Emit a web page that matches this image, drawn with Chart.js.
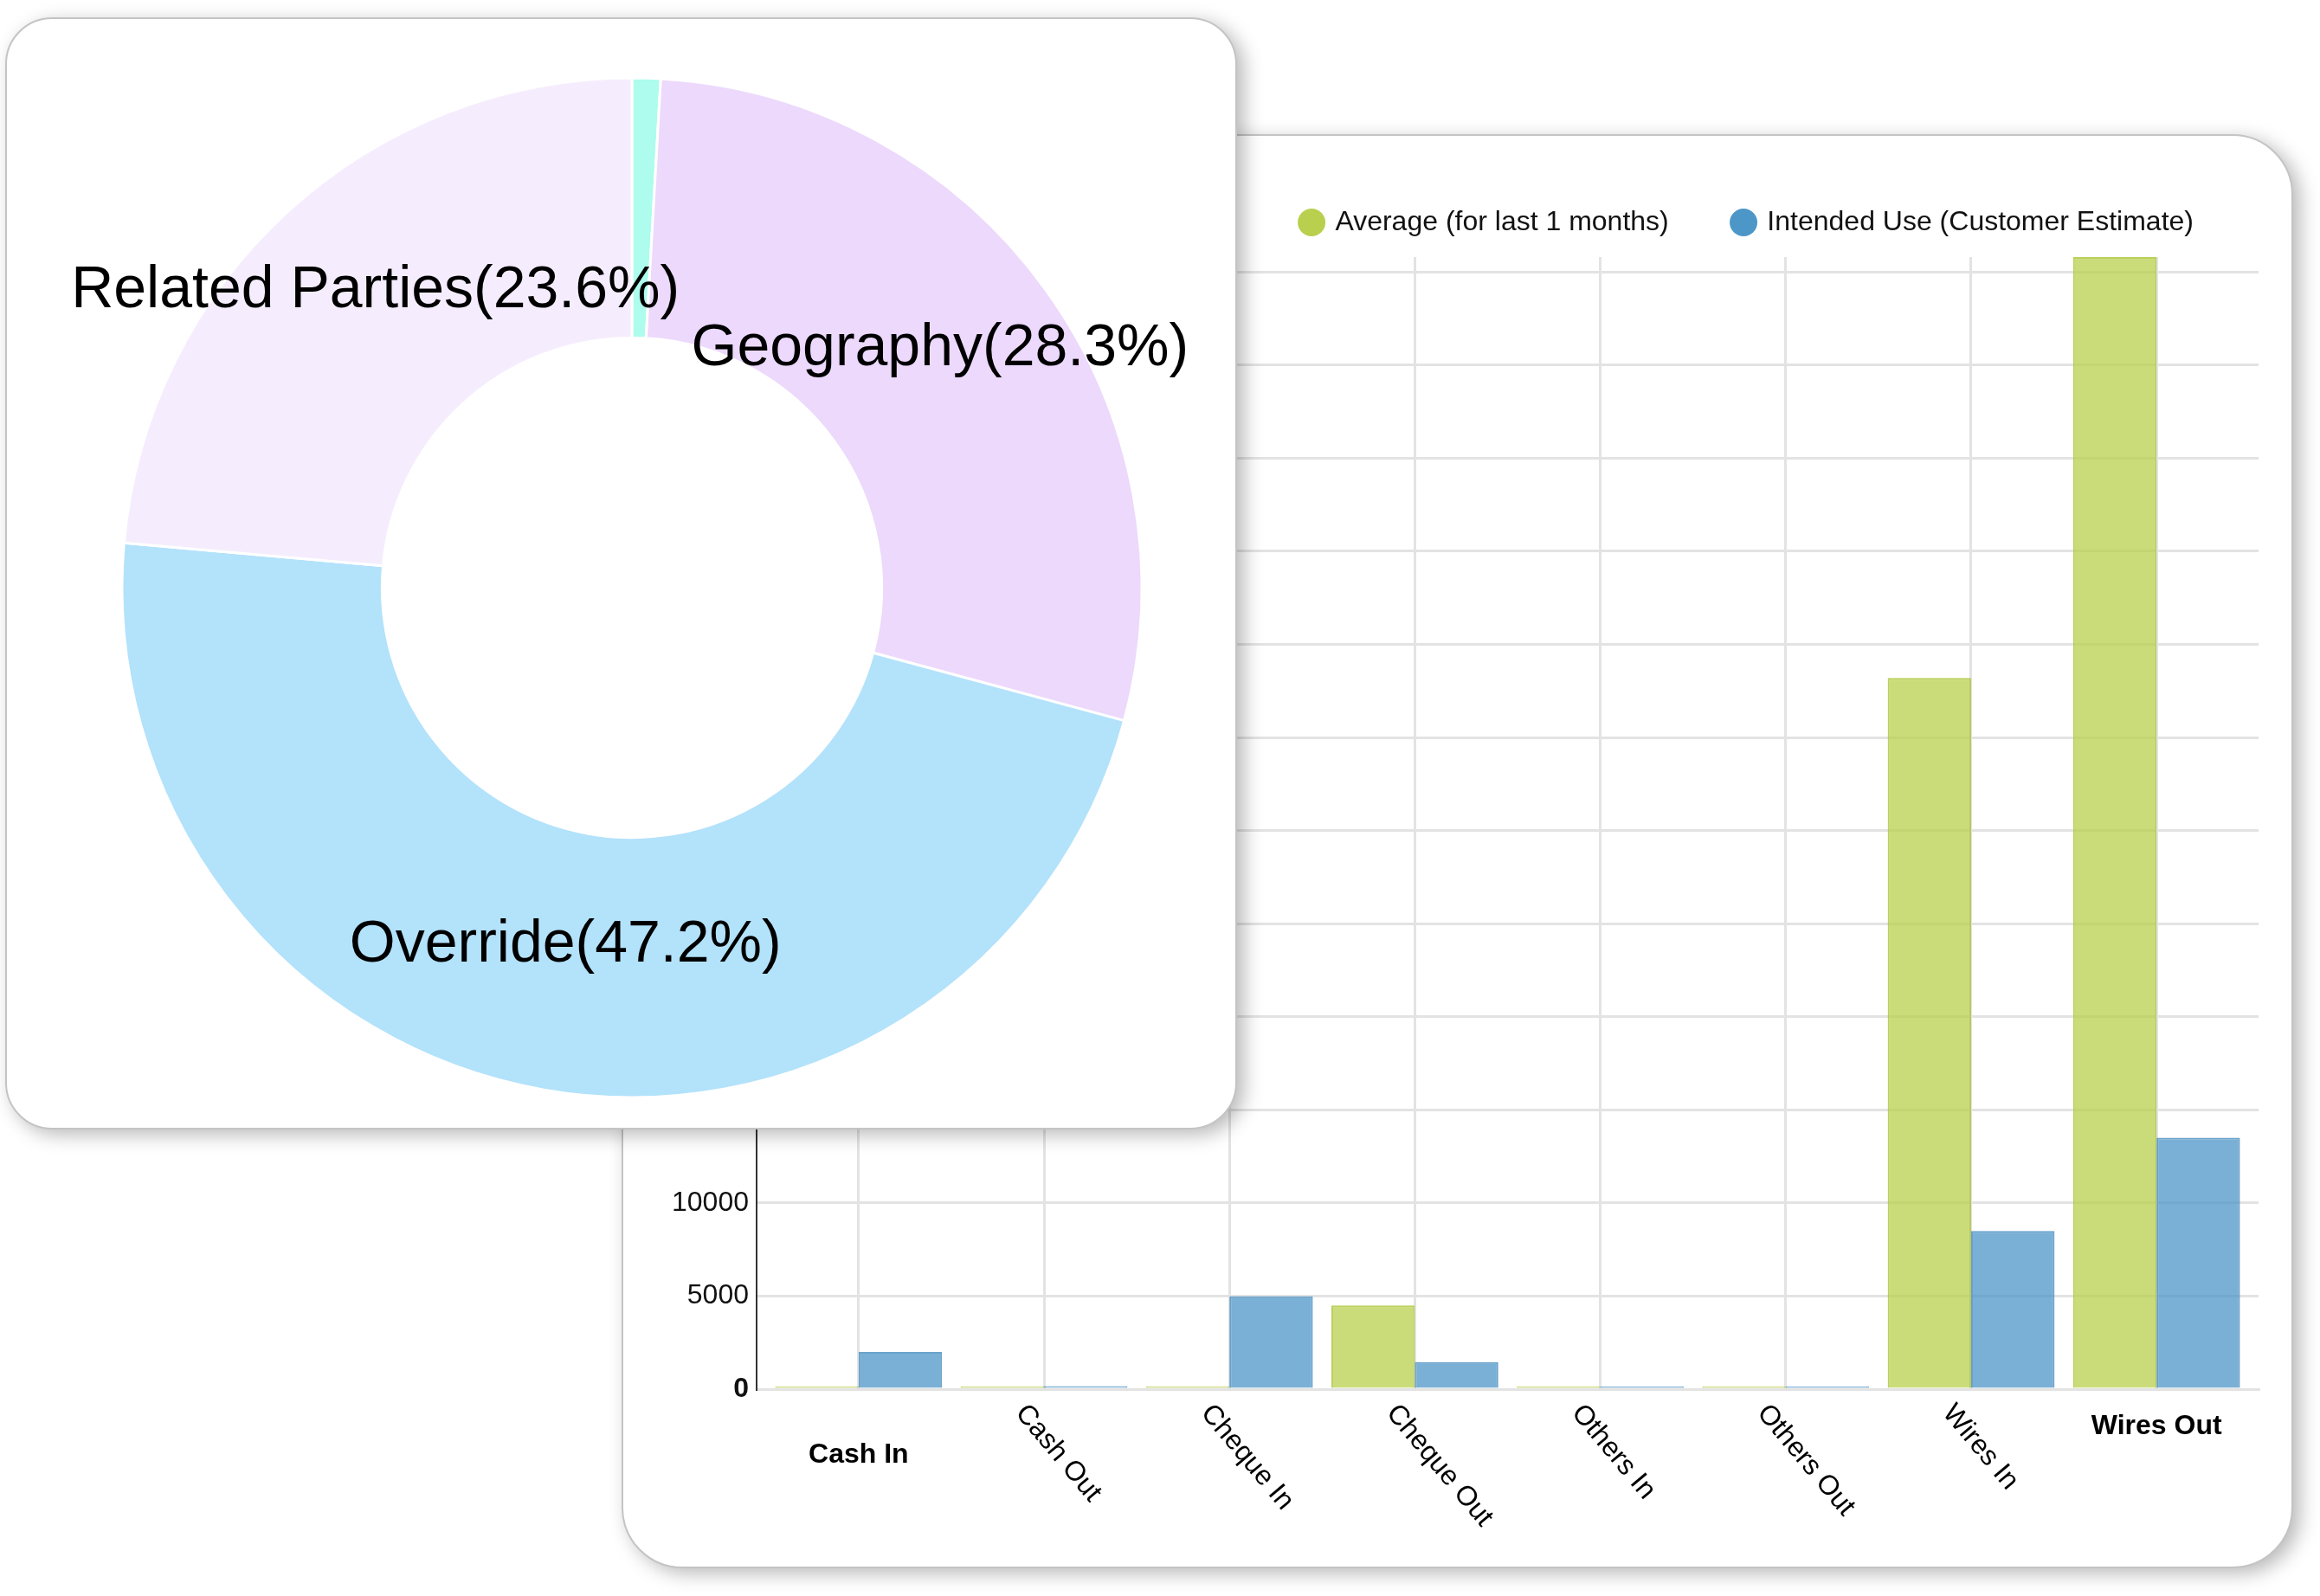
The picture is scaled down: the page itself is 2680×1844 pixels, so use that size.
<!DOCTYPE html>
<html>
<head>
<meta charset="utf-8">
<script src="https://cdn.jsdelivr.net/npm/chart.js@4.4.1/dist/chart.umd.min.js"></script>
<style>
  body { margin:0; width:2680px; height:1844px; background:#fff; position:relative; overflow:hidden; }
  .card { position:absolute; box-sizing:border-box; background:#fff; border:2px solid #c4c4c4; box-shadow:8px 6px 22px rgba(0,0,0,0.28); }
  .card canvas { position:absolute; left:-2px; top:-2px; }
  #barCard { left:718px; top:155px; width:1931px; height:1657px; border-radius:70px; }
  #pieCard { left:6px; top:20px; width:1423px; height:1285px; border-radius:54px; z-index:2; }
</style>
</head>
<body>
<div class="card" id="barCard"><canvas id="bars" width="1931" height="1657"></canvas></div>
<div class="card" id="pieCard"><canvas id="risk" width="1423" height="1285"></canvas></div>
<script>
const FONT = '"Liberation Sans", Arial, sans-serif';
Chart.defaults.font.family = FONT;

// doughnut data
const riskLabels = ['Other', 'Geography', 'Override', 'Related Parties'];
const riskValues = [0.9, 28.3, 47.2, 23.6];
const riskColors = ['#adfced', '#ecd9fc', '#b3e2fb', '#f5edfd'];

// bar data
const categories = ['Cash In', 'Cash Out', 'Cheque In', 'Cheque Out', 'Others In', 'Others Out', 'Wires In', 'Wires Out'];
const avgValues = [140, 140, 140, 4500, 140, 140, 38200, 60800];
const intendedValues = [2000, 160, 4980, 1450, 140, 140, 8500, 13500];
const yStep = 5000;
const seriesNames = ['Average (for last 1 months)', 'Intended Use (Customer Estimate)'];
const legendColors = ['#b8d04e', '#4d96c8'];
const barColors = ['rgba(184,208,78,0.75)', 'rgba(77,150,200,0.75)'];
const barBorders = ['rgba(175,200,65,0.85)', 'rgba(70,140,190,0.8)'];

// labels "Name(xx.x%)" in the middle of the ring
const sliceLabels = {
  id: 'sliceLabels',
  afterDatasetsDraw(chart) {
    const ctx = chart.ctx;
    const total = riskValues.reduce((a, b) => a + b, 0);
    ctx.save();
    ctx.font = '68px ' + FONT;
    ctx.fillStyle = '#000';
    ctx.textAlign = 'center';
    ctx.textBaseline = 'alphabetic';
    chart.getDatasetMeta(0).data.forEach((arc, i) => {
      const pct = riskValues[i] / total * 100;
      if (pct < 5) return;
      const p = arc.tooltipPosition();
      ctx.fillText(riskLabels[i] + '(' + pct.toFixed(1) + '%)', p.x, p.y);
    });
    ctx.restore();
  }
};

new Chart(document.getElementById('risk'), {
  type: 'doughnut',
  data: {
    labels: riskLabels,
    datasets: [{ data: riskValues, backgroundColor: riskColors, borderColor: '#fff', borderWidth: 3 }]
  },
  options: {
    responsive: false,
    animation: false,
    devicePixelRatio: 1,
    cutout: '49%',
    layout: { padding: { left: 133.5, top: 68.5, right: 108.5, bottom: 35.5 } },
    plugins: { legend: { display: false }, tooltip: { enabled: false } }
  },
  plugins: [sliceLabels]
});

// category labels under the bars: first/last flat and bold, the rest slanted
const xLabels = {
  id: 'xLabels',
  afterDraw(chart) {
    const { ctx, chartArea } = chart;
    const xs = chart.scales.x;
    ctx.save();
    ctx.fillStyle = '#000';
    categories.forEach((name, i) => {
      const x = xs.getPixelForValue(i);
      if (i === 0 || i === categories.length - 1) {
        ctx.font = 'bold 32px ' + FONT;
        ctx.textAlign = 'center';
        ctx.textBaseline = 'middle';
        ctx.fillText(name, x, chartArea.bottom + (i === 0 ? 76 : 43));
      } else {
        ctx.save();
        ctx.translate(x - 15, chartArea.bottom + 12);
        ctx.rotate(50 * Math.PI / 180);
        ctx.font = '32px ' + FONT;
        ctx.textAlign = 'left';
        ctx.textBaseline = 'top';
        ctx.fillText(name, 0, 0);
        ctx.restore();
      }
    });
    ctx.restore();
  }
};

const toPoints = arr => arr.map((v, i) => ({ x: i, y: v }));

new Chart(document.getElementById('bars'), {
  type: 'bar',
  data: {
    datasets: [
      { label: seriesNames[0], data: toPoints(avgValues), backgroundColor: barColors[0], borderColor: barBorders[0], borderWidth: 2, borderSkipped: 'bottom' },
      { label: seriesNames[1], data: toPoints(intendedValues), backgroundColor: barColors[1], borderColor: barBorders[1], borderWidth: 2, borderSkipped: 'bottom' }
    ]
  },
  options: {
    responsive: false,
    animation: false,
    devicePixelRatio: 1,
    categoryPercentage: 0.9,
    barPercentage: 1.0,
    layout: { padding: { left: 56, top: 11, right: 40, bottom: 0 } },
    scales: {
      x: {
        type: 'linear',
        min: -0.55,
        max: categories.length - 0.45,
        offset: false,
        ticks: { display: false },
        grid: { color: '#e3e3e3', lineWidth: 3, drawTicks: false, offset: false },
        border: { color: '#e3e3e3', width: 3 },
        afterBuildTicks: s => { s.ticks = categories.map((_, i) => ({ value: i })); },
        afterFit: s => { s.height = 207; }
      },
      xTop: {
        type: 'linear',
        position: 'top',
        grid: { display: false, drawTicks: false },
        ticks: { display: false },
        border: { display: false },
        afterFit: s => { s.height = 14; }
      },
      y: {
        min: 0,
        max: Math.max(...avgValues, ...intendedValues),
        ticks: {
          padding: 9,
          color: '#111',
          autoSkip: false,
          font: c => ({ family: FONT, size: 32, weight: c.tick && c.tick.value === 0 ? 'bold' : 'normal' }),
          callback: v => String(v)
        },
        grid: { color: '#e3e3e3', lineWidth: 3, drawTicks: false },
        border: { color: '#333', width: 2 },
        afterBuildTicks: s => {
          const t = [];
          for (let v = 0; v <= s.max; v += yStep) t.push({ value: v });
          s.ticks = t;
        },
        afterFit: s => { s.width = 100; }
      }
    },
    plugins: {
      tooltip: { enabled: false },
      legend: {
        position: 'top',
        align: 'end',
        labels: {
          usePointStyle: true,
          pointStyle: 'circle',
          boxWidth: 22.6,
          boxHeight: 22.6,
          padding: 75,
          color: '#111',
          font: { size: 32, family: FONT },
          generateLabels: chart => Chart.defaults.plugins.legend.labels.generateLabels(chart).map((item, i) =>
            Object.assign(item, { fillStyle: legendColors[i], strokeStyle: legendColors[i], lineWidth: 0, pointStyle: 'circle' }))
        }
      }
    }
  },
  plugins: [xLabels]
});
</script>
</body>
</html>
